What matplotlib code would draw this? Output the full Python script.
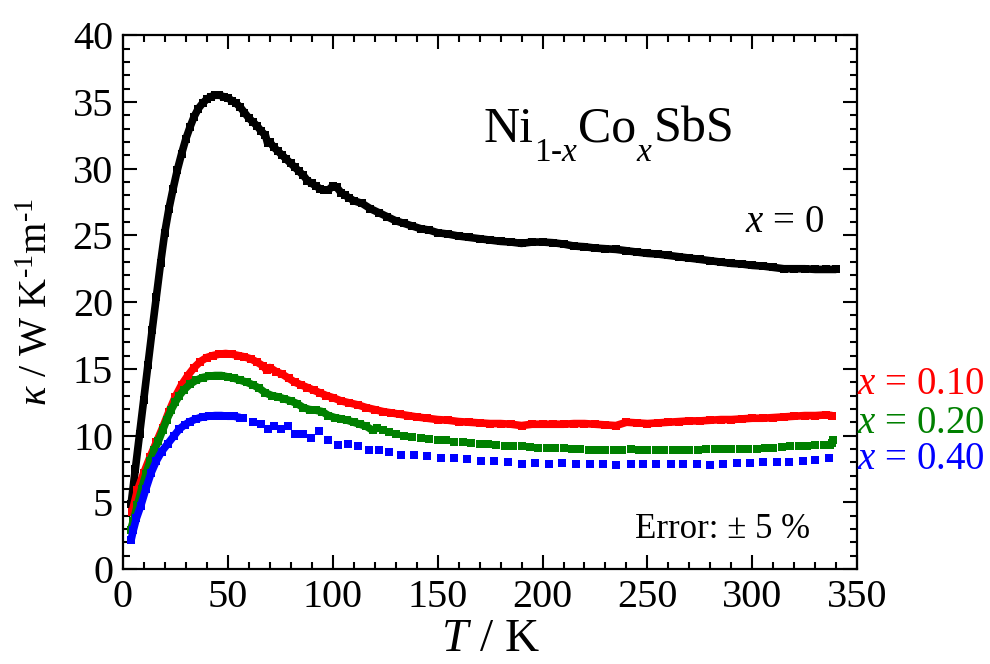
import numpy as np
import matplotlib
matplotlib.use('Agg')
import matplotlib.pyplot as plt
from matplotlib.ticker import MultipleLocator

plt.rcParams['font.family'] = 'Liberation Serif'
plt.rcParams['mathtext.fontset'] = 'custom'
plt.rcParams['mathtext.rm'] = 'Liberation Serif'
plt.rcParams['mathtext.it'] = 'Liberation Serif:italic'

# x = 0
T_x0 = [4, 6, 8, 10, 12, 14, 16, 18, 20, 22, 24, 26, 28, 30, 32, 34, 36, 38, 40, 42, 44, 46, 48, 50,
        52, 54, 56, 58, 60, 62, 64, 66, 68, 69, 70, 72, 74, 76, 78, 80, 82, 84, 86, 88, 90, 92, 94,
        96, 98, 100, 102, 104, 106, 108, 110, 114, 118, 122, 126, 130, 134, 138, 142, 146, 150, 155,
        160, 165, 170, 175, 180, 185, 190, 195, 200, 205, 210, 215, 220, 225, 230, 235, 240, 245,
        250, 255, 260, 265, 270, 275, 280, 285, 290, 295, 300, 305, 310, 315, 320, 325, 330, 335, 340]
k_x0 = [4.9, 7.5, 10.1, 12.7, 15.3, 17.9, 20.4, 22.9, 25.2, 27.0, 28.5, 29.9, 31.1, 32.2, 33.1, 33.9,
        34.5, 34.9, 35.2, 35.4, 35.5, 35.5, 35.4, 35.3, 35.1, 34.9, 34.6, 34.2, 33.8, 33.5, 33.2, 32.8,
        32.5, 31.9, 32.0, 31.6, 31.3, 31.0, 30.7, 30.4, 30.1, 29.8, 29.5, 29.1, 28.9, 28.7, 28.5, 28.4,
        28.4, 28.7, 28.6, 28.2, 28.0, 27.8, 27.6, 27.4, 27.0, 26.7, 26.4, 26.1, 25.9, 25.7, 25.5, 25.4,
        25.2, 25.1, 24.95, 24.85, 24.75, 24.65, 24.55, 24.5, 24.4, 24.5, 24.5, 24.45, 24.35, 24.2,
        24.15, 24.05, 24.0, 23.95, 23.85, 23.75, 23.65, 23.6, 23.5, 23.4, 23.3, 23.2, 23.1, 23.0, 22.9,
        22.85, 22.75, 22.7, 22.6, 22.5, 22.5, 22.5, 22.45, 22.45, 22.45]

# x = 0.10
T_x10 = [4.5, 7, 10, 13, 16, 19, 22, 25, 28, 31, 34, 37, 40, 43, 46, 49, 52, 55, 58, 61, 64, 67, 68.5,
         70, 73, 76, 79, 82, 85, 88, 91, 94, 97, 100, 104, 108, 112, 116, 120, 124, 128, 132, 136, 140,
         145, 150, 155, 160, 165, 170, 175, 180, 185, 190, 195, 200, 205, 210, 215, 220, 225, 230, 235,
         240, 245, 250, 255, 260, 265, 270, 275, 280, 285, 290, 295, 300, 305, 310, 315, 320, 325, 330,
         335, 338]
k_x10 = [4.3, 5.9, 7.2, 8.4, 9.5, 10.6, 11.8, 12.9, 13.8, 14.5, 15.1, 15.55, 15.85, 16.0, 16.1, 16.15,
         16.1, 16.0, 15.9, 15.75, 15.5, 15.2, 14.9, 15.1, 14.8, 14.6, 14.3, 14.0, 13.8, 13.6, 13.4, 13.2,
         13.0, 12.85, 12.6, 12.45, 12.3, 12.1, 11.95, 11.8, 11.7, 11.6, 11.5, 11.4, 11.3, 11.2, 11.15,
         11.05, 11.0, 10.95, 10.9, 10.9, 10.85, 10.75, 10.85, 10.85, 10.85, 10.85, 10.9, 10.9, 10.85,
         10.8, 10.75, 11.0, 10.95, 10.9, 10.95, 11.0, 11.05, 11.1, 11.1, 11.15, 11.2, 11.2, 11.25, 11.3,
         11.3, 11.35, 11.4, 11.45, 11.5, 11.5, 11.55, 11.5]

# x = 0.20
T_x20 = [3.7, 5, 7, 9, 11, 13, 15, 17, 19, 21, 23, 25, 27, 29, 32, 35, 38, 41, 44, 47, 50, 53, 56, 59,
         62, 65, 68, 71, 74, 77, 80, 83, 86, 89, 92, 95, 98, 101, 104, 107, 110, 113, 116, 119, 121,
         124, 127, 130, 134, 138, 142, 146, 150, 154, 158, 162, 166, 170, 174, 178, 182, 186, 190, 194,
         198, 202, 206, 210, 214, 218, 222, 226, 230, 234, 238, 242, 246, 250, 254, 258, 262, 266, 270,
         274, 278, 282, 286, 290, 294, 298, 302, 306, 310, 314, 318, 322, 326, 330, 334, 337, 338, 338.5]
k_x20 = [2.9, 3.6, 4.8, 6.0, 7.1, 8.1, 8.9, 9.6, 10.4, 11.2, 11.9, 12.5, 13.0, 13.4, 13.85, 14.15,
         14.35, 14.45, 14.5, 14.5, 14.4, 14.3, 14.15, 14.0, 13.8, 13.55, 13.2, 13.0, 12.9, 12.75, 12.6,
         12.4, 12.1, 11.95, 11.9, 11.8, 11.5, 11.35, 11.25, 11.15, 11.0, 10.85, 10.7, 10.4, 10.55, 10.4,
         10.3, 10.15, 10.0, 9.9, 9.8, 9.75, 9.7, 9.65, 9.55, 9.5, 9.45, 9.4, 9.35, 9.3, 9.25, 9.2, 9.2,
         9.15, 9.1, 9.1, 9.05, 9.05, 9.0, 9.0, 8.95, 8.95, 8.9, 8.9, 8.9, 9.0, 8.95, 8.95, 8.95, 8.95,
         8.95, 8.95, 8.95, 8.95, 9.0, 9.0, 9.0, 9.0, 9.0, 9.0, 9.0, 9.05, 9.1, 9.15, 9.2, 9.2, 9.25, 9.3,
         9.3, 9.3, 9.45, 9.65]

# x = 0.40
T_x40 = [4, 5, 6.5, 8.5, 11, 13.5, 16, 18.5, 21.5, 24.5, 27, 29.5, 32, 35, 38, 41, 44, 47, 50, 53, 56,
         57.5, 62, 66, 69, 72, 75.2, 78.7, 82, 86, 89.8, 93.5, 97.8, 102.5, 107.3, 112, 117.3, 122,
         126.8, 132.4, 138.7, 145, 151.4, 157.8, 164, 170.5, 177, 183.5, 190, 196.5, 203, 209.5, 216,
         222.5, 228.7, 235, 242, 248, 254, 261, 267, 273.5, 280, 286, 292.5, 299, 305, 311.6, 317.6,
         324, 330, 336.7]
k_x40 = [2.2, 2.9, 3.8, 4.7, 6.0, 7.2, 8.1, 8.8, 9.4, 10.0, 10.5, 10.8, 11.05, 11.25, 11.4, 11.45,
         11.5, 11.5, 11.45, 11.45, 11.35, 11.35, 11.05, 10.9, 10.5, 10.75, 10.5, 10.7, 10.15, 10.1,
         9.85, 10.35, 9.65, 9.3, 9.4, 9.2, 8.95, 8.95, 8.75, 8.55, 8.55, 8.5, 8.35, 8.3, 8.25, 8.1, 8.1,
         8.05, 7.85, 7.95, 7.9, 7.95, 7.85, 7.9, 7.9, 7.8, 7.85, 7.85, 7.9, 7.85, 7.9, 7.9, 7.8, 7.9,
         7.95, 7.95, 8.0, 8.0, 8.05, 8.1, 8.15, 8.3]

series = [
    (T_x0, k_x0, 'black', 341),
    (T_x10, k_x10, 'red', 341),
    (T_x20, k_x20, 'green', 122),
    (T_x40, k_x40, 'blue', 57),
]

fig = plt.figure(figsize=(9.9, 6.64), dpi=100)
ax = fig.add_axes([0.124, 0.143, 0.742, 0.804])

for T, k, c, t_line in series:
    T = np.array(T)
    k = np.array(k)
    m = T <= t_line
    ax.plot(T[m], k[m], '-', color=c, lw=5.5, solid_capstyle='butt')
    ax.plot(T, k, 's', color=c, ms=5.2, mew=0)

ax.set_xlim(0, 350)
ax.set_ylim(0, 40)
ax.xaxis.set_major_locator(MultipleLocator(50))
ax.xaxis.set_minor_locator(MultipleLocator(10))
ax.yaxis.set_major_locator(MultipleLocator(5))
ax.yaxis.set_minor_locator(MultipleLocator(1))
ax.tick_params(which='both', direction='in', top=True, right=True, width=1.5)
ax.tick_params(which='major', length=10, labelsize=29, pad=7)
ax.tick_params(which='minor', length=5)
for s in ax.spines.values():
    s.set_linewidth(1.6)

ax.set_xlabel(r'$T$ / K', fontsize=34, labelpad=2)
ax.set_ylabel(r'$\kappa$ / W K$^{\text{-}1}$m$^{\text{-}1}$', fontsize=29, labelpad=12)

# formula: main text with low, large subscripts
t1 = ax.text(172, 32.0, 'Ni', fontsize=36, ha='left', va='baseline')
t2 = ax.annotate(r'1-$x$', xy=(1, 0), xycoords=t1, xytext=(0, 11), textcoords='offset points',
                 fontsize=24, ha='left', va='top')
t3 = ax.annotate('Co', xy=(1, 0), xycoords=(t2, t1), fontsize=36, ha='left', va='bottom')
t4 = ax.annotate(r'$x$', xy=(1, 0), xycoords=t3, xytext=(0, 11), textcoords='offset points',
                 fontsize=24, ha='left', va='top')
ax.annotate('SbS', xy=(1, 0), xycoords=(t4, t1), fontsize=36, ha='left', va='bottom')

ax.text(334, 26.0, r'$x$ = 0', fontsize=28, ha='right', va='center')
ax.text(1.0, 13.8, r'$x$ = 0.10', fontsize=28, color='red', ha='left', va='center',
        transform=ax.get_yaxis_transform(), clip_on=False)
ax.text(1.0, 10.9, r'$x$ = 0.20', fontsize=28, color='green', ha='left', va='center',
        transform=ax.get_yaxis_transform(), clip_on=False)
ax.text(1.0, 8.2, r'$x$ = 0.40', fontsize=28, color='blue', ha='left', va='center',
        transform=ax.get_yaxis_transform(), clip_on=False)
ax.text(286, 3.0, 'Error: ± 5 %', fontsize=25, ha='center', va='center')

plt.savefig('out.png', dpi=100)
